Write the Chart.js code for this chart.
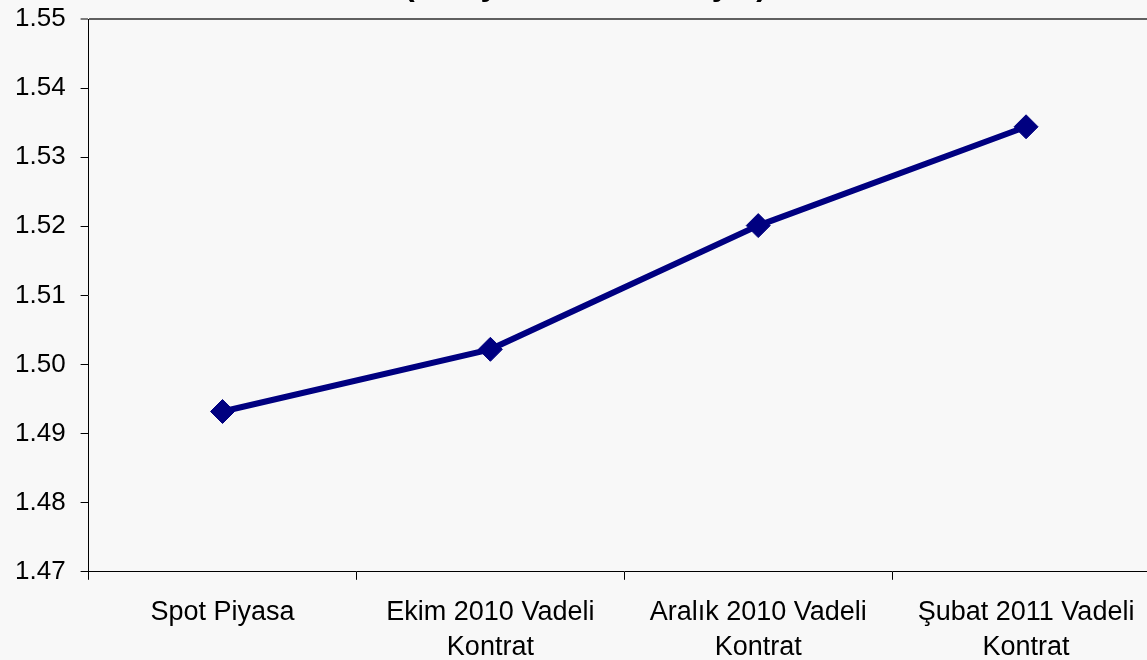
<!DOCTYPE html>
<html>
<head>
<meta charset="utf-8">
<script src="https://cdn.jsdelivr.net/npm/chart.js@4/dist/chart.umd.min.js"></script>
<style>
  html, body { margin: 0; padding: 0; background: #f8f8f8; overflow: hidden; }
  #wrap { position: relative; width: 1147px; height: 660px; overflow: hidden; }
  #title { position: absolute; left: 404px; top: -32px; font: bold 32px/32px "Liberation Sans", Arial, sans-serif; color: #000; white-space: nowrap; }
  canvas { position: absolute; left: 0; top: 0; }
</style>
</head>
<body>
<div id="wrap">
  <canvas id="priceChart" width="1165" height="680"></canvas>
  <div id="title">(28 Eylül 2010 itibarıyla)</div>
</div>
<script>
var categories = [
  "Spot Piyasa",
  ["Ekim 2010 Vadeli", "Kontrat"],
  ["Aralık 2010 Vadeli", "Kontrat"],
  ["Şubat 2011 Vadeli", "Kontrat"]
];
var prices = [1.4932, 1.5022, 1.5201, 1.5344];
var yMin = 1.47;
var yMax = 1.55;
var yStep = 0.01;

var font = "'Liberation Sans', Arial, sans-serif";

var ctx = document.getElementById("priceChart");
var priceChart = new Chart(ctx, {
  type: 'line',
  data: {
    labels: categories,
    datasets: [{
      data: prices,
      borderColor: "#000080",
      backgroundColor: "#000080",
      borderWidth: 6,
      pointStyle: 'rectRot',
      pointRadius: 12,
      pointHoverRadius: 12,
      pointBorderWidth: 1,
      pointBorderColor: "#000080",
      pointBackgroundColor: "#000080",
      tension: 0
    }]
  },
  options: {
    responsive: false,
    animation: false,
    layout: { autoPadding: false, padding: { left: 0, top: 19, right: 5, bottom: 0 } },
    plugins: {
      legend: { display: false },
      tooltip: { enabled: false },
      title: { display: false }
    },
    scales: {
      x: {
        type: 'category',
        offset: true,
        border: { display: true, color: '#000', width: 1 },
        grid: {
          offset: true,
          drawOnChartArea: false,
          drawTicks: true,
          tickLength: 8,
          color: '#000',
          tickColor: '#000',
          tickWidth: 1
        },
        ticks: {
          color: '#000',
          padding: 15,
          maxRotation: 0,
          autoSkip: false,
          font: { family: font, size: 27, lineHeight: 1.3 }
        }
      },
      y: {
        min: yMin,
        max: yMax,
        border: { display: true, color: '#000', width: 1 },
        afterFit: function (scale) {
          // labels at the ends may overflow the plot, as in the original
          scale.paddingTop = 0;
          scale.paddingBottom = 0;
        },
        grid: {
          drawOnChartArea: true,
          drawTicks: true,
          tickLength: 8,
          tickColor: '#000',
          tickWidth: 1,
          color: function (c) {
            return c.index === 8 ? '#606060' : 'rgba(0,0,0,0)';
          },
          lineWidth: function (c) {
            return c.index === 8 ? 2 : 1;
          }
        },
        ticks: {
          stepSize: yStep,
          color: '#000',
          padding: 15,
          font: { family: font, size: 26 },
          callback: function (v) { return Number(v).toFixed(2); }
        }
      }
    }
  }
});
</script>
</body>
</html>
